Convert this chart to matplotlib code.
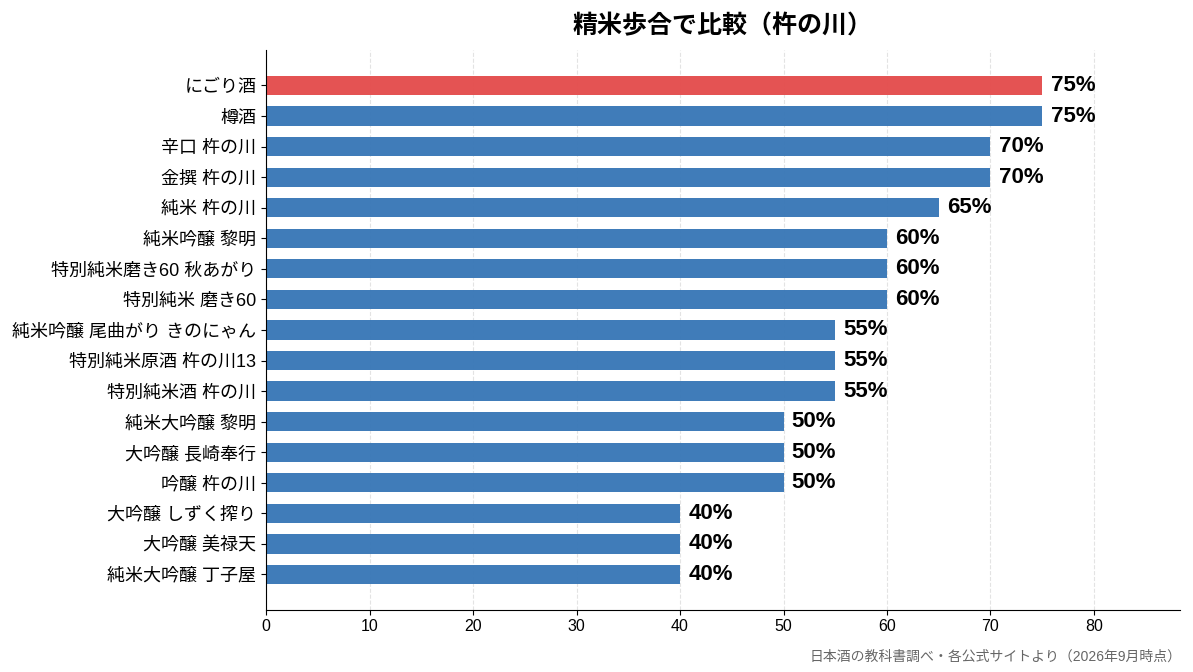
import matplotlib.pyplot as plt
import numpy as np

plt.rcParams['font.family'] = ['Liberation Sans', 'Noto Sans CJK JP', 'DejaVu Sans']

# Data
names = [
    "にごり酒", "樽酒", "辛口 杵の川", "金撰 杵の川", "純米 杵の川",
    "純米吟醸 黎明", "特別純米磨き60 秋あがり", "特別純米 磨き60",
    "純米吟醸 尾曲がり きのにゃん", "特別純米原酒 杵の川13", "特別純米酒 杵の川",
    "純米大吟醸 黎明", "大吟醸 長崎奉行", "吟醸 杵の川",
    "大吟醸 しずく搾り", "大吟醸 美禄天", "純米大吟醸 丁子屋",
]
polish = [75, 75, 70, 70, 65, 60, 60, 60, 55, 55, 55, 50, 50, 50, 40, 40, 40]
highlight = "にごり酒"

color_blue = '#3a78b7'
color_red = '#e44d4d'

fig, ax = plt.subplots(figsize=(11.93, 6.72), dpi=100)
fig.subplots_adjust(left=0.223, right=0.989, top=0.925, bottom=0.093)

y = np.arange(len(names))
colors = [color_red if n == highlight else color_blue for n in names]
ax.barh(y, polish, height=0.63, color=colors, alpha=0.97, zorder=2)

for yi, v in zip(y, polish):
    ax.text(v + 0.8, yi, f"{v}%", va='center', ha='left',
            fontsize=16, fontweight='bold', color='black')

ax.set_yticks(y)
ax.set_yticklabels(names, fontsize=13)
ax.invert_yaxis()
ax.set_xlim(0, 88.3)
ax.set_xticks(np.arange(0, 81, 10))
ax.tick_params(axis='x', labelsize=11.5)

ax.grid(axis='x', linestyle='--', color='#dddddd', linewidth=0.8, alpha=0.8)
ax.set_axisbelow(True)
for s in ['top', 'right']:
    ax.spines[s].set_visible(False)

ax.set_title("精米歩合で比較（杵の川）", fontsize=18, fontweight='bold', pad=12)

fig.text(0.99, 0.013, "日本酒の教科書調べ・各公式サイトより（2026年9月時点）",
         ha='right', va='bottom', fontsize=10, color='#666666')

plt.savefig('out.png', dpi=100)
